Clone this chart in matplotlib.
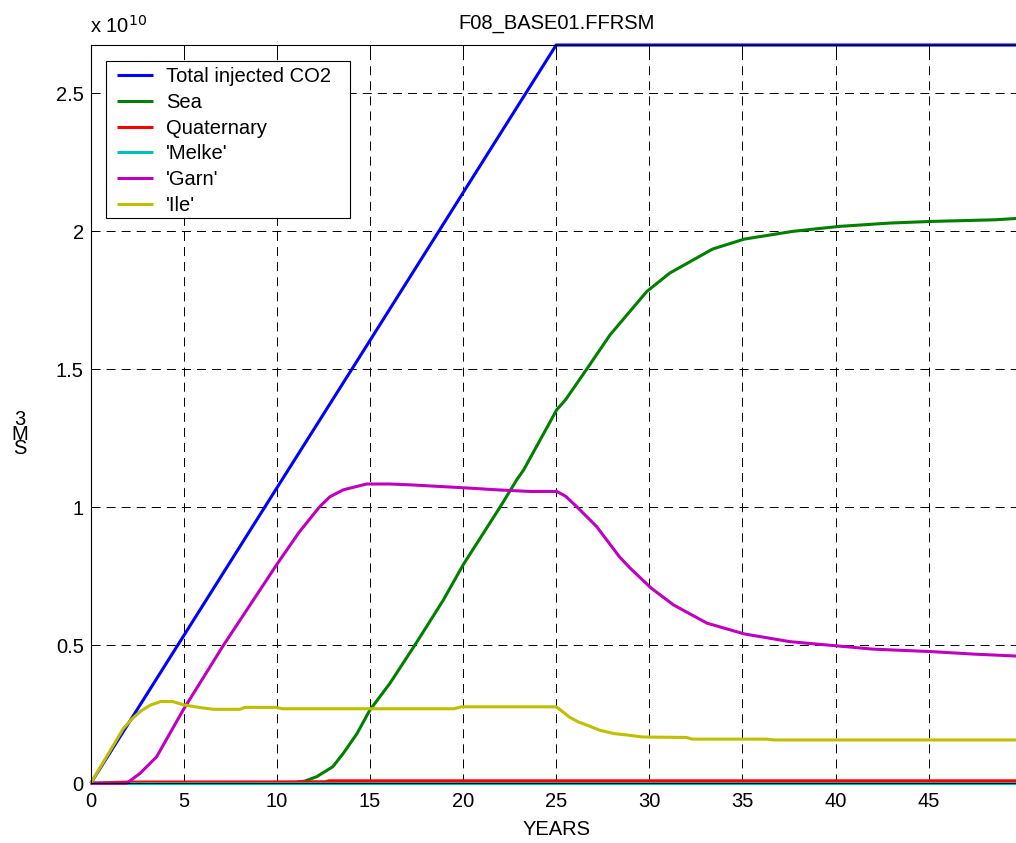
import matplotlib
matplotlib.use("Agg")
import matplotlib.pyplot as plt
from matplotlib.patches import Rectangle

plt.rcParams['font.family'] = ['Liberation Sans', 'DejaVu Sans']

# Cumulative volumes, in units of 1e10 SM3, against simulation years
total_years = [0, 5, 10, 15, 20, 25, 50]
total_vals = [0, 0.535, 1.07, 1.604, 2.139, 2.674, 2.674]

sea_years = [0, 10.7, 11.5, 12.14, 13.0, 13.57, 14.3, 15.0, 16.07, 17.5, 18.94,
             20.0, 22.0, 22.88, 23.25, 25.03, 25.5, 26.64, 27.89, 28.43, 29.86,
             31.1, 33.4, 35.1, 37.7, 40.2, 42.9, 45.15, 48.6, 50]
sea_vals = [0, 0, 0.008, 0.024, 0.06, 0.109, 0.18, 0.266, 0.362, 0.51, 0.664,
            0.791, 1.002, 1.099, 1.135, 1.353, 1.389, 1.50, 1.624, 1.667, 1.781,
            1.848, 1.935, 1.971, 1.999, 2.017, 2.029, 2.035, 2.041, 2.047]

quat_years = [0, 2, 10, 12.6, 12.8, 50]
quat_vals = [0, 0.0045, 0.005, 0.0055, 0.009, 0.009]

melke_years = [0, 50]
melke_vals = [0, 0]

garn_years = [0, 1.93, 2.65, 3.54, 4.97, 7.12, 10.04, 11.2, 12.3, 12.85, 13.57,
              14.82, 16.07, 17.15, 18.76, 20.37, 21.8, 23.6, 25.03, 25.5, 26.1,
              27.17, 28.4, 28.96, 30.1, 31.3, 33.1, 35.1, 37.55, 40.2, 42.0,
              45.15, 47.4, 50]
garn_vals = [0, 0, 0.036, 0.096, 0.266, 0.499, 0.797, 0.91, 1.002, 1.038, 1.063,
             1.084, 1.084, 1.081, 1.075, 1.069, 1.063, 1.057, 1.057, 1.04, 1.002,
             0.93, 0.82, 0.78, 0.707, 0.646, 0.58, 0.541, 0.513, 0.497, 0.486,
             0.477, 0.468, 0.46]

ile_years = [0, 1.75, 2.2, 2.7, 3.2, 3.75, 4.4, 5.0, 5.9, 6.6, 8.0, 8.3, 9.9,
             10.3, 19.5, 19.9, 25.0, 25.3, 25.7, 26.2, 26.8, 27.3, 28.1, 28.8,
             29.6, 30.5, 32.0, 32.3, 36.3, 36.7, 50]
ile_vals = [0, 0.198, 0.232, 0.262, 0.283, 0.296, 0.296, 0.284, 0.274, 0.268,
            0.268, 0.275, 0.275, 0.27, 0.27, 0.277, 0.277, 0.262, 0.24, 0.222,
            0.207, 0.193, 0.18, 0.175, 0.168, 0.167, 0.166, 0.16, 0.16, 0.157,
            0.157]

series = [
    ("Total injected CO2", total_years, total_vals, (0, 0, 1)),
    ("Sea", sea_years, sea_vals, (0, 0.5, 0)),
    ("Quaternary", quat_years, quat_vals, (1, 0, 0)),
    ("'Melke'", melke_years, melke_vals, (0, 0.75, 0.75)),
    ("'Garn'", garn_years, garn_vals, (0.75, 0, 0.75)),
    ("'Ile'", ile_years, ile_vals, (0.75, 0.75, 0)),
]

xticks = [0, 5, 10, 15, 20, 25, 30, 35, 40, 45]
yticks = [0, 0.5, 1, 1.5, 2, 2.5]
ytick_labels = ["0", "0.5", "1", "1.5", "2", "2.5"]

W, H = 1016, 843
fig = plt.figure(figsize=(W / 100, H / 100), dpi=100)
ax_left, ax_right, ax_bottom, ax_top = 90.7, 1021.7, 783.3, 45
ax = fig.add_axes([ax_left / W, 1 - ax_bottom / H,
                   (ax_right - ax_left) / W, (ax_bottom - ax_top) / H])

for label, xs, ys, color in series:
    ax.plot(xs, ys, color=color, lw=2.2, label=label, clip_on=False,
            solid_capstyle='butt')

ax.set_xlim(0, 50)
ax.set_ylim(0, 2.674)
ax.set_xticks(xticks)
ax.set_yticks(yticks)
ax.set_yticklabels(ytick_labels)
ax.tick_params(direction='in', length=6, width=0.7, top=True, right=True,
               labelsize=14.5, pad=6)
ax.tick_params(axis='y', pad=5)
for sp in ax.spines.values():
    sp.set_linewidth(0.8)
ax.grid(True, color='black', lw=0.7, linestyle=(0, (9.3, 6.2)))

ax.set_title("F08_BASE01.FFRSM", fontsize=14.5, pad=12)
ax.set_xlabel("YEARS", fontsize=14.5, labelpad=7)

# Legend entries without a frame; the box is drawn as a separate rectangle
leg = ax.legend(loc='upper left', fontsize=14.5, frameon=False,
                borderpad=0, borderaxespad=0, labelspacing=0.33,
                handlelength=1.8, handletextpad=0.65,
                bbox_to_anchor=(117 / W, 1 - 67.5 / H),
                bbox_transform=fig.transFigure)
leg.set_zorder(6)
box = Rectangle((106 / W, 1 - 218 / H), (350 - 106) / W, (218 - 61) / H,
                transform=fig.transFigure, facecolor='white', edgecolor='black',
                lw=0.8, zorder=5.5, clip_on=False)
ax.add_patch(box)

# Exponent of the y-axis and stacked unit label
fig.text(90 / W, 1 - 33 / H, r"x 10$^{10}$", fontsize=14.5, ha='left',
         va='baseline')
fig.text(20 / W, 1 - 434 / H, "3\nM\nS", fontsize=14.5, ha='center',
         va='center', linespacing=0.72)

fig.savefig("out.png", dpi=100)
